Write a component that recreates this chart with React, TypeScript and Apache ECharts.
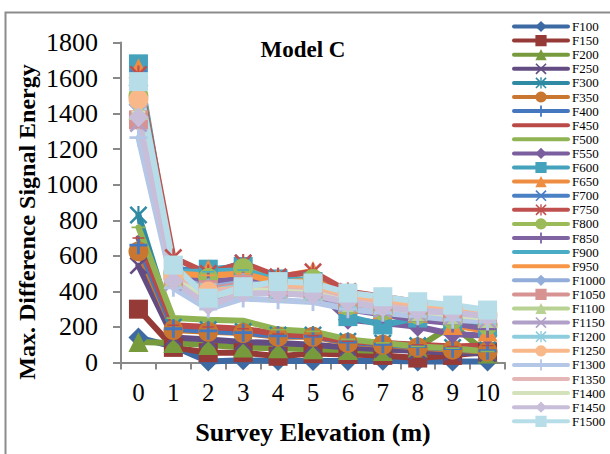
import React, { useEffect, useRef } from 'react';
import * as echarts from 'echarts';

const categories = ['0', '1', '2', '3', '4', '5', '6', '7', '8', '9', '10'];
const yTicks = { min: 0, max: 1800, interval: 200 };
const titleText = 'Model C';
const xTitle = 'Survey Elevation (m)';
const yTitle = 'Max. Difference Signal Energy';

const seriesNames = [
  'F100', 'F150', 'F200', 'F250', 'F300', 'F350', 'F400', 'F450', 'F500', 'F550',
  'F600', 'F650', 'F700', 'F750', 'F800', 'F850', 'F900', 'F950', 'F1000', 'F1050',
  'F1100', 'F1150', 'F1200', 'F1250', 'F1300', 'F1350', 'F1400', 'F1450', 'F1500',
];

const f100 = [140, 90, 5, 12, 8, 8, 8, 10, 5, 5, 5];
const f150 = [300, 85, 55, 55, 35, 50, 45, 40, 25, 40, 60];
const f200 = [115, 110, 98, 85, 80, 75, 70, 65, 85, 210, 50];
const f250 = [545, 140, 130, 115, 110, 100, 85, 75, 65, 55, 50];
const f300 = [830, 200, 185, 175, 155, 155, 120, 110, 95, 85, 72];
const f350 = [625, 183, 173, 166, 145, 145, 110, 100, 85, 72, 62];
const f400 = [660, 190, 178, 168, 150, 148, 115, 103, 90, 78, 66];
const f450 = [700, 210, 200, 190, 160, 150, 120, 110, 100, 90, 95];
const f500 = [760, 250, 240, 235, 185, 175, 130, 110, 90, 80, 62];
const f550 = [1560, 470, 455, 470, 430, 420, 240, 222, 201, 160, 150];
const f600 = [1680, 520, 525, 540, 470, 455, 258, 211, 250, 230, 195];
const f650 = [1655, 500, 525, 515, 480, 515, 330, 300, 280, 211, 175];
const f700 = [1600, 530, 500, 560, 470, 460, 350, 320, 290, 260, 230];
const f750 = [1620, 590, 500, 560, 483, 510, 400, 370, 340, 310, 280];
const f800 = [1500, 500, 475, 530, 450, 470, 320, 290, 270, 240, 210];
const f850 = [1540, 480, 455, 460, 420, 430, 300, 270, 240, 220, 190];
const f900 = [1610, 510, 510, 520, 460, 470, 330, 300, 280, 250, 220];
const f950 = [1570, 500, 490, 500, 450, 460, 340, 310, 290, 260, 230];
const f1000 = [1450, 480, 420, 450, 420, 400, 360, 330, 300, 280, 250];
const f1050 = [1365, 470, 410, 440, 415, 410, 350, 320, 300, 270, 250];
const f1100 = [1420, 470, 380, 420, 400, 400, 340, 320, 290, 270, 250];
const f1150 = [1345, 450, 360, 400, 390, 380, 330, 300, 280, 260, 240];
const f1200 = [1500, 490, 400, 430, 410, 400, 350, 320, 300, 280, 260];
const f1250 = [1480, 480, 400, 419, 430, 420, 380, 351, 320, 300, 270];
const f1300 = [1265, 420, 300, 360, 350, 340, 300, 280, 260, 240, 230];
const f1350 = [1400, 470, 390, 420, 410, 400, 350, 320, 300, 280, 260];
const f1400 = [1410, 460, 370, 410, 400, 390, 340, 310, 290, 270, 250];
const f1450 = [1380, 460, 320, 390, 390, 380, 340, 310, 290, 280, 260];
const f1500 = [1580, 548, 362, 426, 455, 447, 391, 370, 342, 323, 295];

const seriesValues = [
  f100, f150, f200, f250, f300, f350, f400, f450, f500, f550,
  f600, f650, f700, f750, f800, f850, f900, f950, f1000, f1050,
  f1100, f1150, f1200, f1250, f1300, f1350, f1400, f1450, f1500,
];

const colors = [
  '#3D6AA3', '#963A37', '#779A3D', '#634C82', '#2F8AA3', '#C97730',
  '#4577BE', '#BA4A47', '#90B354', '#7A5E9E', '#44A2BC', '#EE8D41',
  '#4A80C4', '#C0504D', '#9BBB59', '#8064A2', '#4BACC6', '#F79646',
  '#93ADDA', '#D79392', '#B8D293', '#B0A0C8', '#8ECDDE', '#F9B88A',
  '#B5C7E6', '#E4B7B6', '#D3E2BA', '#C8BEDA', '#B7DEE8',
];

const X_PATH = 'path://M1,0L5,4L9,0L10,1L6,5L10,9L9,10L5,6L1,10L0,9L4,5L0,1Z';
const STAR_PATH = 'path://M1,0L5,4L9,0L10,1L6,5L10,9L9,10L5,6L1,10L0,9L4,5L0,1ZM4.4,0L5.6,0L5.6,10L4.4,10Z';
const PLUS_PATH = 'path://M4.2,0L5.8,0L5.8,10L4.2,10ZM0,4.2L10,4.2L10,5.8L0,5.8Z';
const DASH_PATH = 'path://M0,0L0.01,0.01M0,4.4L10,4.4L10,5.6L0,5.6ZM10,10L9.99,9.99';

const markerCycle = [
  { symbol: 'diamond', size: 20 },
  { symbol: 'rect', size: 19 },
  { symbol: 'triangle', size: 20 },
  { symbol: X_PATH, size: 18 },
  { symbol: STAR_PATH, size: 18 },
  { symbol: 'circle', size: 20 },
  { symbol: PLUS_PATH, size: 18 },
  { symbol: DASH_PATH, size: 12 },
  { symbol: DASH_PATH, size: 14 },
];

const serif = "'Liberation Serif', 'Times New Roman', Times, serif";
const axisGray = '#898989';

export default function App() {
  const ref = useRef<HTMLDivElement>(null);

  useEffect(() => {
    if (!ref.current) return;
    const chart = echarts.init(ref.current, undefined, { renderer: 'svg' });

    const series = seriesNames.map((name, i) => {
      const m = markerCycle[i % markerCycle.length];
      return {
        name,
        type: 'line',
        data: seriesValues[i],
        symbol: m.symbol,
        symbolSize: m.size,
        showAllSymbol: true,
        clip: false,
        lineStyle: { color: colors[i], width: 6, join: 'round', cap: 'round' },
        itemStyle: { color: colors[i], borderWidth: 0 },
        emphasis: { disabled: true },
        z: 2,
      };
    });

    chart.setOption({
      animation: false,
      backgroundColor: '#ffffff',
      color: colors,
      grid: { left: 121, right: 105, top: 42.5, bottom: 91.5, containLabel: false },
      legend: {
        orient: 'vertical',
        left: 512,
        top: 20,
        height: 450,
        padding: 0,
        itemWidth: 54,
        itemHeight: 14,
        itemGap: 1.1,
        selectedMode: false,
        data: seriesNames,
        lineStyle: { width: 4 },
        textStyle: { fontFamily: serif, fontSize: 13, color: '#000', padding: [0, 0, 0, -1] },
      },
      xAxis: {
        type: 'category',
        data: categories,
        boundaryGap: true,
        axisLine: { show: true, lineStyle: { color: axisGray, width: 2 } },
        axisTick: { show: true, interval: 0, alignWithLabel: false, length: 7, lineStyle: { color: axisGray, width: 2 } },
        axisLabel: { interval: 0, margin: 17, fontFamily: serif, fontSize: 25, color: '#000' },
        splitLine: { show: false },
      },
      yAxis: {
        type: 'value',
        min: yTicks.min,
        max: yTicks.max,
        interval: yTicks.interval,
        axisLine: { show: true, lineStyle: { color: axisGray, width: 2 } },
        axisTick: { show: true, length: 8, lineStyle: { color: axisGray, width: 2 } },
        axisLabel: {
          margin: 23,
          fontFamily: serif,
          fontSize: 26,
          color: '#000',
          formatter: (v: number) => String(v),
        },
        splitLine: { show: false },
      },
      graphic: [
        {
          type: 'rect',
          silent: true,
          z: -10,
          shape: { x: 5.5, y: 12.5, width: 800, height: 800 },
          style: { fill: 'none', stroke: '#8c8c8c', lineWidth: 2 },
        },
        {
          type: 'text',
          x: 303,
          y: 49,
          style: {
            text: titleText,
            font: `bold 23px ${serif}`,
            fill: '#000',
            align: 'center',
            verticalAlign: 'middle',
            textAlign: 'center',
            textVerticalAlign: 'middle',
          },
        },
        {
          type: 'text',
          x: 313,
          y: 432,
          style: {
            text: xTitle,
            font: `bold 26px ${serif}`,
            fill: '#000',
            align: 'center',
            verticalAlign: 'middle',
            textAlign: 'center',
            textVerticalAlign: 'middle',
          },
        },
        {
          type: 'text',
          x: 27,
          y: 222,
          rotation: Math.PI / 2,
          style: {
            text: yTitle,
            font: `bold 24px ${serif}`,
            fill: '#000',
            align: 'center',
            verticalAlign: 'middle',
            textAlign: 'center',
            textVerticalAlign: 'middle',
          },
        },
      ],
      series,
    });

    return () => {
      chart.dispose();
    };
  }, []);

  return (
    <div
      ref={ref}
      style={{ position: 'fixed', left: 0, top: 0, width: 610, height: 454, background: '#fff' }}
    />
  );
}
